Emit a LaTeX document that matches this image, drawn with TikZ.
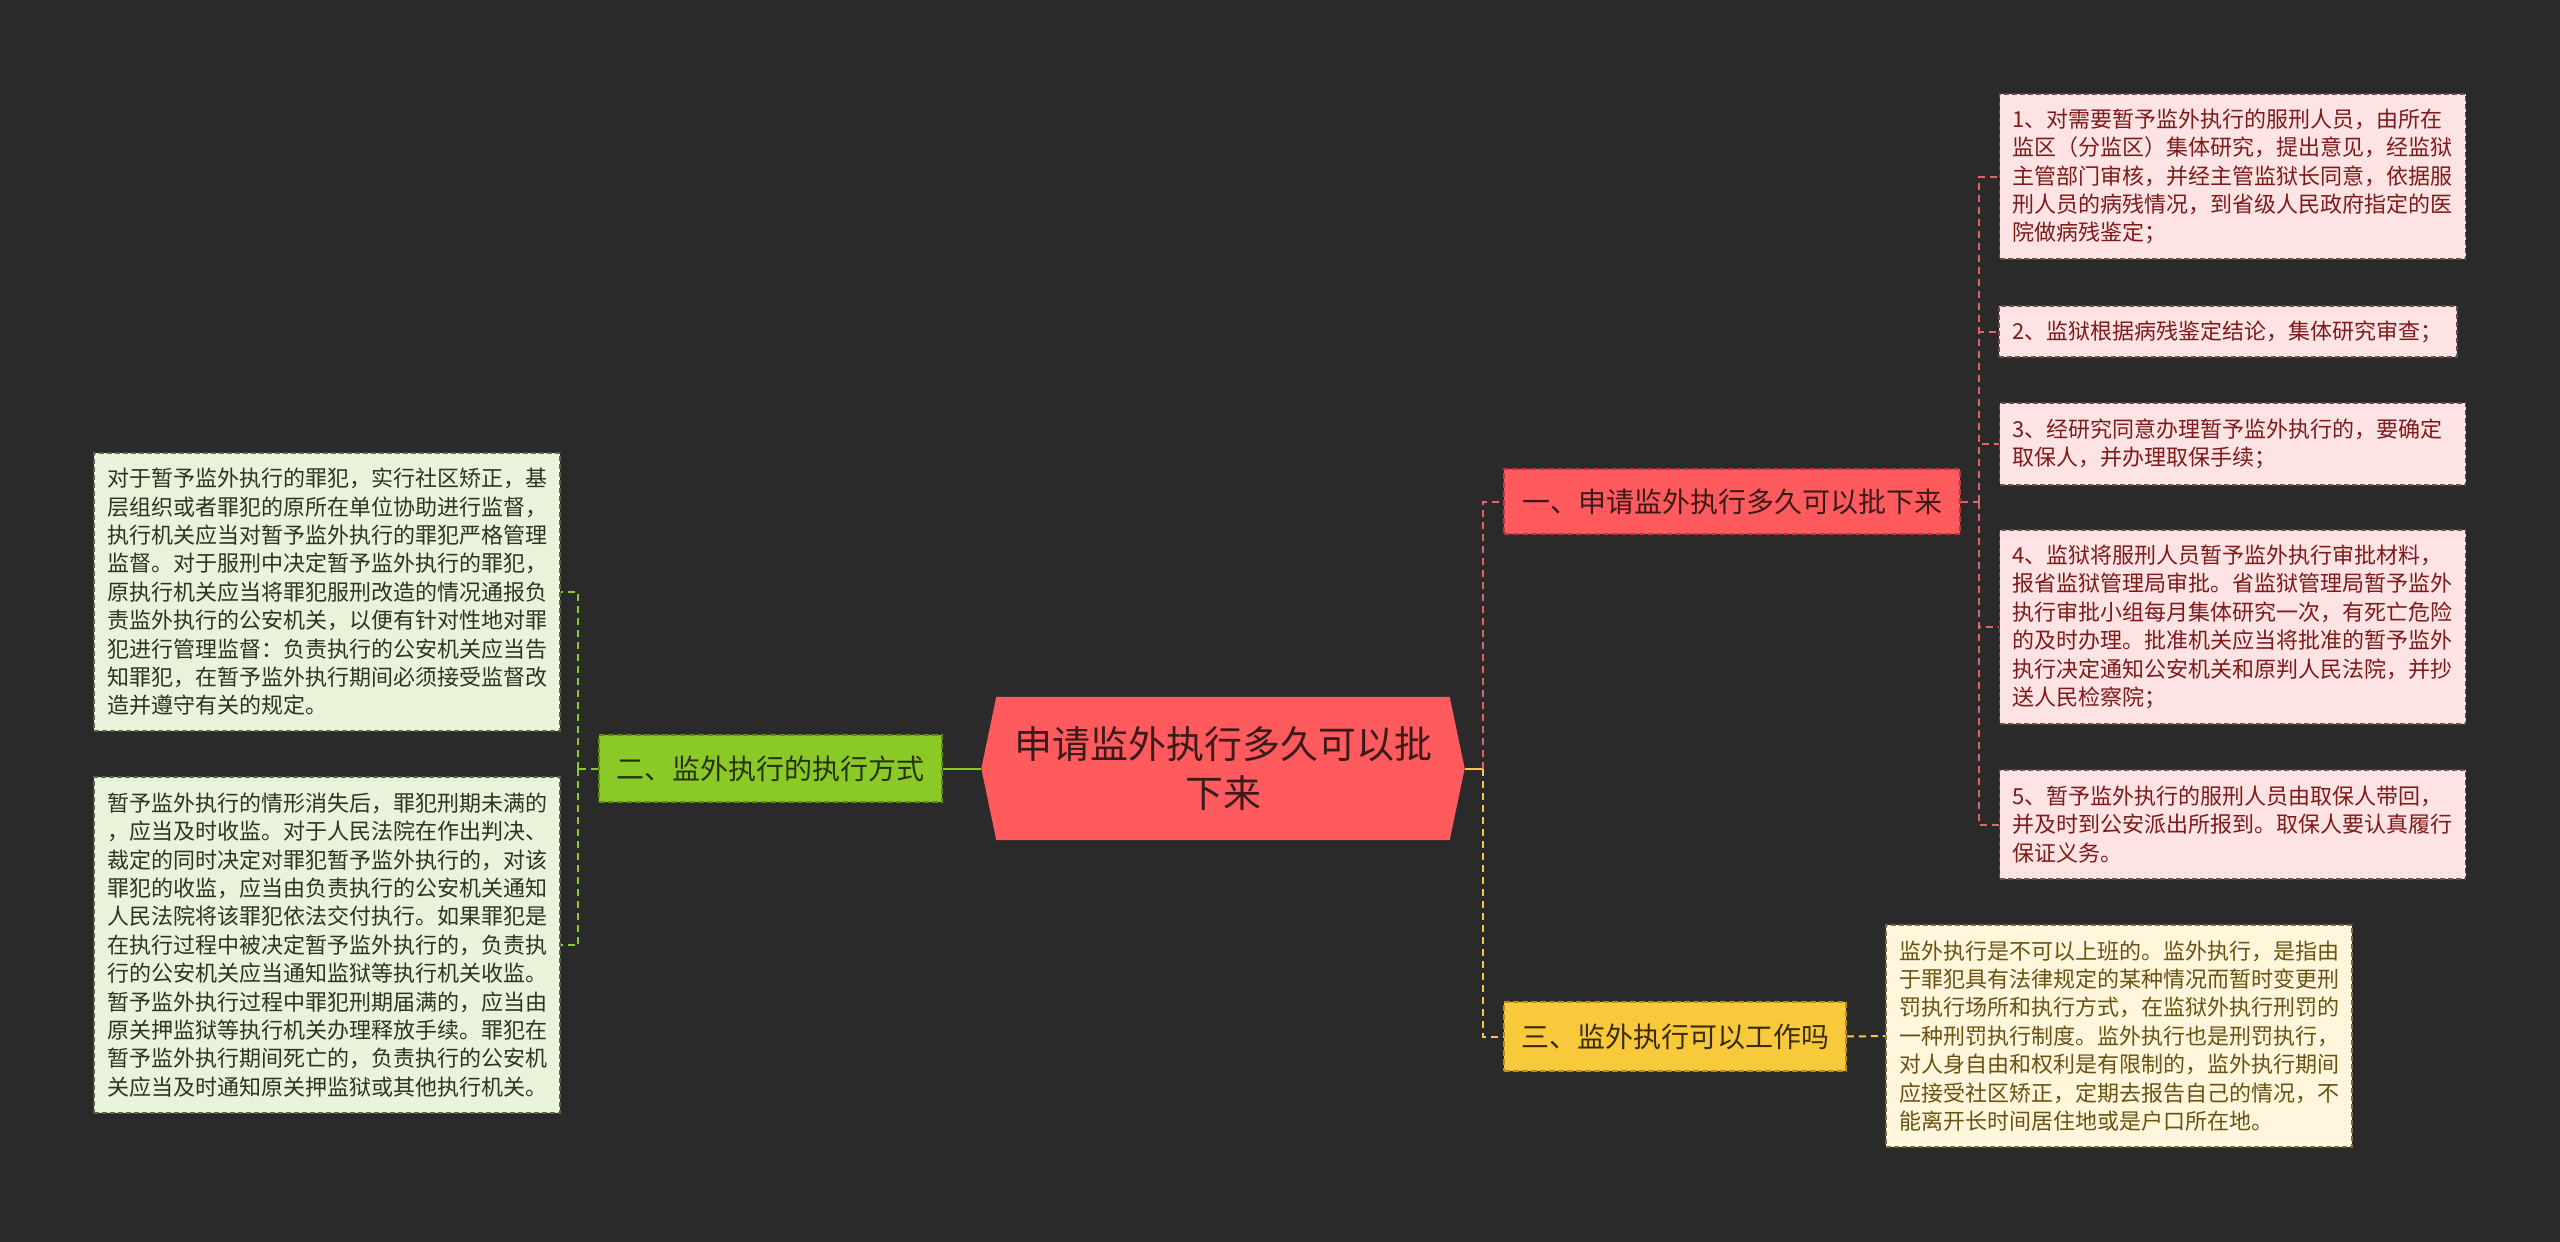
\documentclass[tikz,border=0pt]{standalone}
\usepackage{fontspec}
\setmainfont{Noto Sans CJK SC}
\usetikzlibrary{positioning, backgrounds}

\definecolor{bgdark}{HTML}{2A2A2A}
\definecolor{rootred}{HTML}{FF5A5E}
\definecolor{roottext}{HTML}{3A1A1A}
\definecolor{redline}{HTML}{E26468}
\definecolor{redborder}{HTML}{B8393D}
\definecolor{greenfill}{HTML}{8AC926}
\definecolor{greenborder}{HTML}{5E8E14}
\definecolor{greentext}{HTML}{24330C}
\definecolor{yellowfill}{HTML}{F9C93C}
\definecolor{yellowborder}{HTML}{B88E16}
\definecolor{yellowtext}{HTML}{3A2D05}
\definecolor{leafred}{HTML}{FDE3E3}
\definecolor{leafredtext}{HTML}{7E1A1A}
\definecolor{leafredline}{HTML}{6E4A4A}
\definecolor{leafgreen}{HTML}{E9F3D9}
\definecolor{leafgreentext}{HTML}{2E3323}
\definecolor{leafgreenline}{HTML}{566448}
\definecolor{leafyellow}{HTML}{FFF6DC}
\definecolor{leafyellowtext}{HTML}{6A5212}
\definecolor{leafyellowline}{HTML}{76683F}

\begin{document}
\begin{tikzpicture}[x=1pt, y=-1pt,
    link/.style={line width=2pt, dash pattern=on 7pt off 5pt},
    topic/.style={line width=1.5pt, dash pattern=on 6pt off 3pt, inner sep=0pt, align=center, font=\fontsize{28}{34}\selectfont},
    leaf/.style={line width=1.2pt, dash pattern=on 5pt off 3pt, inner xsep=13pt, inner ysep=0pt, text width=440pt, align=left, font=\fontsize{22}{28.4}\selectfont},
    redleaf/.style={leaf, draw=leafredline, fill=leafred, text=leafredtext},
    greenleaf/.style={leaf, draw=leafgreenline, fill=leafgreen, text=leafgreentext},
    yellowleaf/.style={leaf, draw=leafyellowline, fill=leafyellow, text=leafyellowtext}]

    \useasboundingbox (0,0) rectangle (2560,1242);

    % centre
    \node[minimum width=483pt, minimum height=143pt, inner sep=0pt, align=center, text=roottext,
        font=\fontsize{38}{49}\selectfont] (root) at (1223,768.5) {申请监外执行多久可以批\\下来};
    \begin{scope}[on background layer]
        \fill[bgdark] (0,0) rectangle (2560,1242);
        \fill[rootred] ([xshift=15pt]root.north west) -- ([xshift=-15pt]root.north east) -- (root.east)
            -- ([xshift=-15pt]root.south east) -- ([xshift=15pt]root.south west) -- (root.west) -- cycle;
    \end{scope}

    % topics
    \node[topic, draw=redborder, fill=rootred, text=roottext, minimum width=456pt, minimum height=65pt]
        (redtopic) at (1732,501.5) {一、申请监外执行多久可以批下来};
    \node[topic, draw=greenborder, fill=greenfill, text=greentext, minimum width=343pt, minimum height=67pt]
        (greentopic) at (770.5,768.5) {二、监外执行的执行方式};
    \node[topic, draw=yellowborder, fill=yellowfill, text=yellowtext, minimum width=342pt, minimum height=69pt]
        (yellowtopic) at (1675,1036.5) {三、监外执行可以工作吗};

    % right leaves
    \node[redleaf, minimum height=165pt] (red1) at (2232.5,176.5) {1、对需要暂予监外执行的服刑人员，由所在\\
        监区（分监区）集体研究，提出意见，经监狱\\
        主管部门审核，并经主管监狱长同意，依据服\\
        刑人员的病残情况，到省级人民政府指定的医\\
        院做病残鉴定；};
    \node[redleaf, text width=432pt, minimum height=51pt] (red2) at (2228,331.5) {2、监狱根据病残鉴定结论，集体研究审查；};
    \node[redleaf, minimum height=82pt] (red3) at (2232.5,444) {3、经研究同意办理暂予监外执行的，要确定\\
        取保人，并办理取保手续；};
    \node[redleaf, minimum height=194pt] (red4) at (2232.5,627) {4、监狱将服刑人员暂予监外执行审批材料，\\
        报省监狱管理局审批。省监狱管理局暂予监外\\
        执行审批小组每月集体研究一次，有死亡危险\\
        的及时办理。批准机关应当将批准的暂予监外\\
        执行决定通知公安机关和原判人民法院，并抄\\
        送人民检察院；};
    \node[redleaf, minimum height=109pt] (red5) at (2232.5,824.5) {5、暂予监外执行的服刑人员由取保人带回，\\
        并及时到公安派出所报到。取保人要认真履行\\
        保证义务。};

    % left leaves
    \node[greenleaf, minimum height=278pt] (green1) at (327,592) {对于暂予监外执行的罪犯，实行社区矫正，基\\
        层组织或者罪犯的原所在单位协助进行监督，\\
        执行机关应当对暂予监外执行的罪犯严格管理\\
        监督。对于服刑中决定暂予监外执行的罪犯，\\
        原执行机关应当将罪犯服刑改造的情况通报负\\
        责监外执行的公安机关，以便有针对性地对罪\\
        犯进行管理监督：负责执行的公安机关应当告\\
        知罪犯，在暂予监外执行期间必须接受监督改\\
        造并遵守有关的规定。};
    \node[greenleaf, minimum height=336pt] (green2) at (327,945) {暂予监外执行的情形消失后，罪犯刑期未满的\\
        ，应当及时收监。对于人民法院在作出判决、\\
        裁定的同时决定对罪犯暂予监外执行的，对该\\
        罪犯的收监，应当由负责执行的公安机关通知\\
        人民法院将该罪犯依法交付执行。如果罪犯是\\
        在执行过程中被决定暂予监外执行的，负责执\\
        行的公安机关应当通知监狱等执行机关收监。\\
        暂予监外执行过程中罪犯刑期届满的，应当由\\
        原关押监狱等执行机关办理释放手续。罪犯在\\
        暂予监外执行期间死亡的，负责执行的公安机\\
        关应当及时通知原关押监狱或其他执行机关。};

    % yellow leaf
    \node[yellowleaf, minimum height=222pt] (yellow1) at (2119,1036) {监外执行是不可以上班的。监外执行，是指由\\
        于罪犯具有法律规定的某种情况而暂时变更刑\\
        罚执行场所和执行方式，在监狱外执行刑罚的\\
        一种刑罚执行制度。监外执行也是刑罚执行，\\
        对人身自由和权利是有限制的，监外执行期间\\
        应接受社区矫正，定期去报告自己的情况，不\\
        能离开长时间居住地或是户口所在地。};

    % joints
    \coordinate (rootjoin) at (1483,768.5);
    \coordinate (redjoin) at (1979,501.5);
    \coordinate (greenjoin) at (578,768.5);

    \draw[yellowfill, line width=2pt] (root.east) -- (rootjoin);
    \draw[greenfill, line width=2pt] (root.west) -- (greentopic.east);
    \draw[link, redline] (rootjoin) |- (redtopic.west);
    \draw[link, yellowfill] (rootjoin) |- (yellowtopic.west);
    \draw[link, yellowfill] (yellowtopic.east) -- (yellow1.west);

    \draw[link, redline] (redtopic.east) -- (redjoin);
    \foreach \n in {1,...,5}
        \draw[link, redline] (redjoin) |- (red\n.west);

    \draw[link, greenfill] (greentopic.west) -- (greenjoin);
    \foreach \n in {1,2}
        \draw[link, greenfill] (greenjoin) |- (green\n.east);
\end{tikzpicture}
\end{document}
